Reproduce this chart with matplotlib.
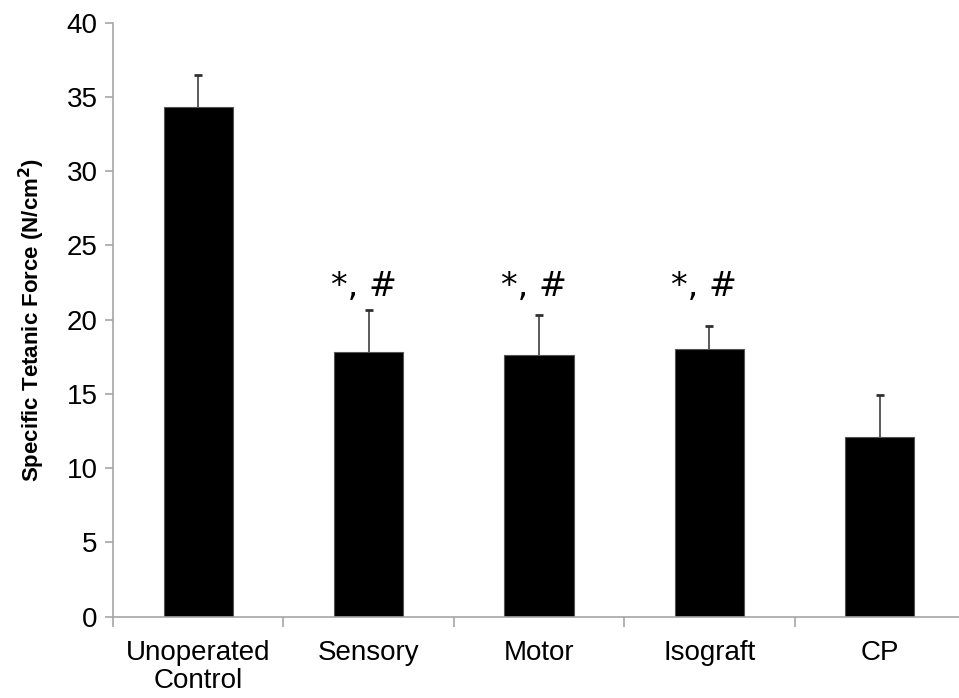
import matplotlib.pyplot as plt

# data
groups = ["Unoperated\nControl", "Sensory", "Motor", "Isograft", "CP"]
force = [34.3, 17.8, 17.6, 18.0, 12.1]
err = [2.15, 2.85, 2.75, 1.6, 2.85]
marks = ["", "*, #", "*, #", "*, #", ""]

plt.rcParams['font.family'] = ['Liberation Sans', 'DejaVu Sans']
grey = '#a6a6a6'

fig = plt.figure(figsize=(9.59, 6.98), dpi=100)
ax = fig.add_axes([113 / 959, 1 - 616.7 / 698, 852 / 959, (616.7 - 22.7) / 698])

x = list(range(len(groups)))
tops = [f + e for f, e in zip(force, err)]
ax.bar(x, force, width=0.405, color='black', edgecolor='#555555', linewidth=0.8, zorder=2)
ax.errorbar(x, force, yerr=[[0] * len(err), err], fmt='none', ecolor='#404040',
            elinewidth=1.2, capsize=0, zorder=1)
ax.scatter(x, tops, marker='_', s=30, color='#303030', linewidths=2, zorder=1)

for i, m in enumerate(marks):
    if m:
        ax.text(i - 0.03, 21.6, m, ha='center', va='baseline', fontsize=24,
                family=['DejaVu Sans'])

ax.set_xlim(-0.5, 4.5)
ax.set_ylim(0, 40)
ax.set_yticks(range(0, 41, 5))
ax.set_xticks([i - 0.5 for i in range(6)], minor=True)
ax.set_xticks(x)
ax.set_xticklabels(groups, fontsize=20, linespacing=1.1)
ax.tick_params(axis='y', labelsize=20, color=grey, length=6, width=1.2, pad=5)
ax.tick_params(axis='x', which='major', length=0, pad=17)
ax.tick_params(axis='x', which='minor', color=grey, length=7, width=1.2)

for s in ['top', 'right']:
    ax.spines[s].set_visible(False)
for s in ['left', 'bottom']:
    ax.spines[s].set_color(grey)
    ax.spines[s].set_linewidth(1.2)

ax.set_ylabel('Specific Tetanic Force (N/cm$^\\mathbf{2}$)', fontsize=16,
              fontweight='bold', labelpad=14)

fig.savefig('out.png', dpi=100)
